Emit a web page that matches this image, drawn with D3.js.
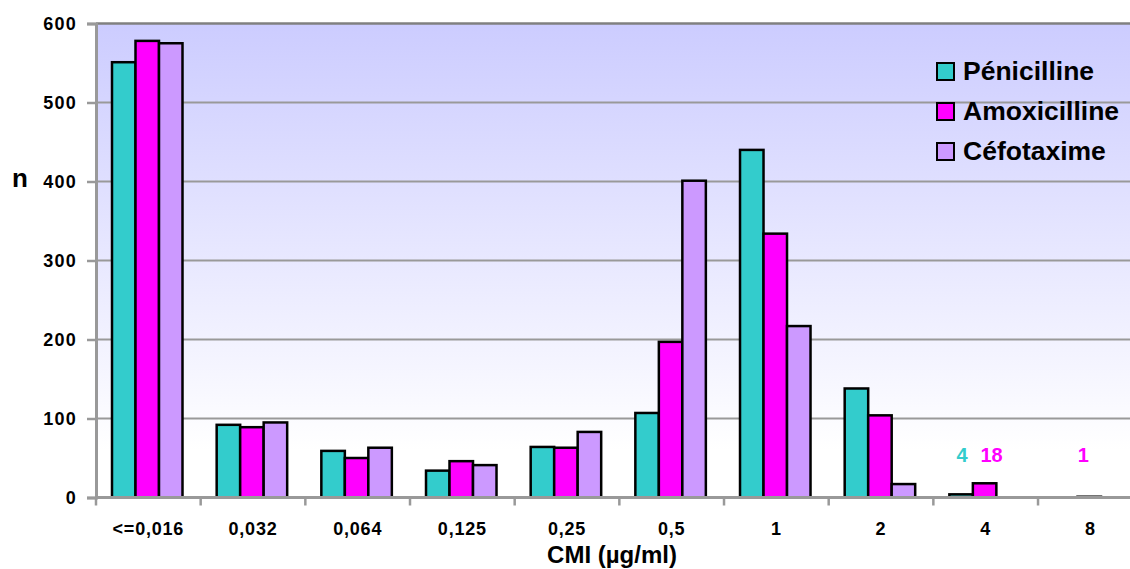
<!DOCTYPE html>
<html>
<head>
<meta charset="utf-8">
<script src="https://cdn.jsdelivr.net/npm/d3@7"></script>
<style>
  html, body { margin: 0; padding: 0; background: #fff; }
  svg { display: block; font-family: Arial, "Liberation Sans", sans-serif; font-weight: bold; }
</style>
</head>
<body>
<svg id="chart" width="1130" height="569"></svg>
<script>
// MIC categories (µg/ml)
const categories = ["<=0,016", "0,032", "0,064", "0,125", "0,25", "0,5", "1", "2", "4", "8"];
const seriesNames = ["Pénicilline", "Amoxicilline", "Céfotaxime"];
const penicilline  = [551, 92, 59, 34, 64, 107, 440, 138, 4, 0];
const amoxicilline = [578, 89, 50, 46, 63, 197, 334, 104, 18, 1];
const cefotaxime   = [575, 95, 63, 41, 83, 401, 217, 17, 0, 0];
const yTicks = [0, 100, 200, 300, 400, 500, 600];
// small values annotated above their bars: [series index, category, horizontal nudge]
const annotated = [[0, "4", 1], [1, "4", 7], [1, "8", -6]];

const seriesValues = [penicilline, amoxicilline, cefotaxime];
const colors = ["#33CCCC", "#FF00FF", "#CC99FF"];
const font = "Arial, 'Liberation Sans', sans-serif";

const svg = d3.select("#chart");
const plotLeft = 96, plotTop = 23.5, plotBottom = 497.5;
const bandW = 104.67;
const plotRight = plotLeft + bandW * categories.length;

const x = d3.scaleBand().domain(categories).range([plotLeft, plotRight]).padding(0);
const inner = d3.scaleBand().domain(d3.range(3)).range([16, 16 + 70.5]).padding(0);
const y = d3.scaleLinear().domain([0, 600]).range([plotBottom, plotTop]);

// plot background gradient
const defs = svg.append("defs");
const grad = defs.append("linearGradient").attr("id", "bg")
  .attr("x1", 0).attr("y1", 0).attr("x2", 0).attr("y2", 1);
grad.append("stop").attr("offset", "0%").attr("stop-color", "#CCCCFF");
grad.append("stop").attr("offset", "90%").attr("stop-color", "#FFFFFF");
grad.append("stop").attr("offset", "100%").attr("stop-color", "#FFFFFF");
svg.append("rect").attr("x", plotLeft).attr("y", plotTop)
  .attr("width", plotRight - plotLeft).attr("height", plotBottom - plotTop)
  .attr("fill", "url(#bg)");

// horizontal grid lines
svg.append("g").selectAll("line").data(yTicks.filter(d => d > 0)).join("line")
  .attr("x1", plotLeft).attr("x2", plotRight)
  .attr("y1", d => y(d)).attr("y2", d => y(d))
  .attr("stroke", d => d === 600 ? "#808080" : "#999999")
  .attr("stroke-width", d => d === 600 ? 2.5 : 2);

// bars
const rows = [];
categories.forEach((c, i) => seriesValues.forEach((vals, s) => rows.push({ c, s, v: vals[i] })));
svg.append("g").selectAll("rect").data(rows.filter(d => d.v > 0)).join("rect")
  .attr("x", d => x(d.c) + inner(d.s))
  .attr("y", d => y(d.v))
  .attr("width", inner.bandwidth())
  .attr("height", d => y(0) - y(d.v))
  .attr("fill", d => colors[d.s])
  .attr("stroke", "#000")
  .attr("stroke-width", 2.5);

// y axis
const yAxis = svg.append("g").attr("transform", `translate(${plotLeft},0)`)
  .call(d3.axisLeft(y).tickValues(yTicks).tickSize(9).tickPadding(10).tickFormat(d3.format("d")));
yAxis.select(".domain").attr("stroke", "#999").attr("stroke-width", 3);
yAxis.selectAll(".tick line").attr("stroke", "#999").attr("stroke-width", 2.5);
yAxis.selectAll(".tick text").attr("font-size", 18).attr("font-weight", "bold")
  .attr("font-family", font).attr("fill", "#000")
  .attr("letter-spacing", 1.2).attr("dy", "0.36em");

// x axis
const xAxis = svg.append("g").attr("transform", `translate(0,${plotBottom})`)
  .call(d3.axisBottom(x).tickSize(0).tickPadding(25));
xAxis.select(".domain").attr("stroke", "#999").attr("stroke-width", 3)
  .attr("d", `M${plotLeft},0H${plotRight}`);
xAxis.selectAll(".tick text").attr("font-size", 18).attr("font-weight", "bold")
  .attr("font-family", font).attr("fill", "#000")
  .attr("letter-spacing", 0.8);
// category separators
svg.append("g").selectAll("line").data(d3.range(categories.length + 1)).join("line")
  .attr("x1", i => plotLeft + i * x.step()).attr("x2", i => plotLeft + i * x.step())
  .attr("y1", plotBottom).attr("y2", plotBottom + 8)
  .attr("stroke", "#999").attr("stroke-width", 2.5);

// value annotations
svg.append("g").selectAll("text").data(annotated).join("text")
  .attr("x", d => x(d[1]) + inner(d[0]) + inner.bandwidth() / 2 + d[2])
  .attr("y", 462)
  .attr("text-anchor", "middle")
  .attr("font-size", 20)
  .attr("fill", d => colors[d[0]])
  .text(d => seriesValues[d[0]][categories.indexOf(d[1])]);

// axis titles
svg.append("text").attr("x", 612).attr("y", 563).attr("text-anchor", "middle")
  .attr("font-size", 24).text("CMI (µg/ml)");
svg.append("text").attr("x", 20).attr("y", 187).attr("text-anchor", "middle")
  .attr("font-size", 26).text("n");

// legend
const legend = svg.append("g").attr("transform", "translate(937,0)");
seriesNames.forEach((name, i) => {
  const by = 80 + i * 40;
  legend.append("rect").attr("x", 0).attr("y", by - 17).attr("width", 17).attr("height", 17)
    .attr("fill", colors[i]).attr("stroke", "#000").attr("stroke-width", 2);
  legend.append("text").attr("x", 26).attr("y", by).attr("font-size", 26.5).text(name);
});
</script>
</body>
</html>
